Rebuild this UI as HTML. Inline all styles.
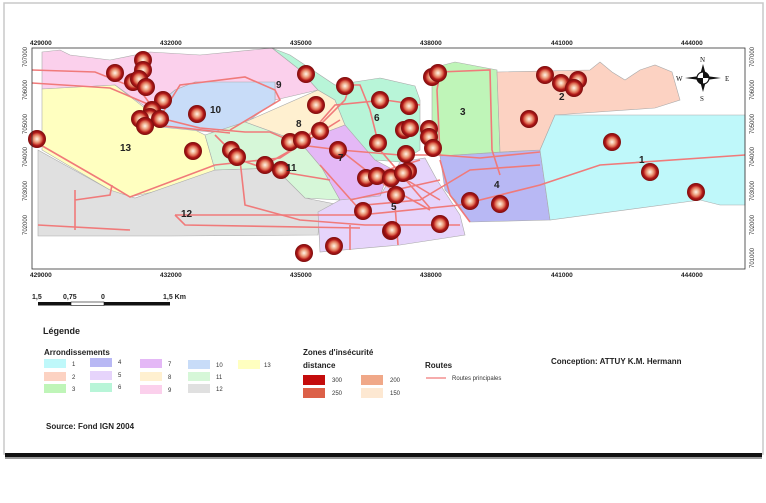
<!DOCTYPE html>
<html><head><meta charset="utf-8"><style>
html,body{margin:0;padding:0;background:#fff;}
svg{display:block;font-family:"Liberation Sans",sans-serif;}
</style></head><body>
<svg width="766" height="503" viewBox="0 0 766 503" xmlns="http://www.w3.org/2000/svg">
<defs>
<radialGradient id="c" cx="50%" cy="50%" r="50%">
<stop offset="0" stop-color="#fff4ea"/><stop offset="0.3" stop-color="#f0b090"/><stop offset="0.55" stop-color="#d9604a"/><stop offset="0.72" stop-color="#b01818"/><stop offset="1" stop-color="#7a0c0c"/>
</radialGradient>
</defs>
<rect x="0" y="0" width="766" height="503" fill="#fff"/>
<rect x="4" y="3" width="759" height="451" fill="#fff" stroke="#c8c8c8" stroke-width="1.5"/>
<rect x="5" y="453" width="757" height="4" fill="#111"/>
<rect x="5" y="457" width="757" height="2" fill="#999"/>

<g stroke="#aaa" stroke-width="0.6">
<polygon fill="#fbd0ec" points="42,52 60,50 70,55 110,60 150,52 200,55 272,48 300,70 318,90 275,100 275,83 195,82 175,90 150,110 115,85 42,89"/>
<polygon fill="#ffffc0" points="42,89 115,85 150,112 155,125 195,130 205,135 215,170 180,186 130,197 115,193 42,150"/>
<polygon fill="#e0e0e0" points="38,150 110,190 135,198 215,170 275,168 305,198 340,205 320,212 318,235 170,236 38,236"/>
<polygon fill="#c8dcf8" points="175,90 195,82 275,82 275,102 230,134 160,127 150,112"/>
<polygon fill="#fff0d0" points="245,122 318,90 335,100 345,125 300,142"/>
<polygon fill="#d6f7d8" points="205,135 245,122 300,142 322,168 340,200 305,198 275,168 215,170"/>
<polygon fill="#b8f5d8" points="272,48 290,55 335,85 380,78 415,86 420,100 420,150 400,162 375,160 350,140 345,125 335,100 318,90 300,70"/>
<polygon fill="#e4b8f6" points="300,142 345,125 375,160 390,168 380,196 340,200 322,168"/>
<polygon fill="#e6d4fb" points="340,200 380,196 400,162 425,158 437,180 460,215 465,235 400,245 320,252 318,212"/>
<polygon fill="#bff5b8" points="432,68 455,62 497,70 500,152 440,156 432,130"/>
<polygon fill="#b8b8f4" points="440,156 540,150 550,220 470,222 455,200 445,190"/>
<polygon fill="#fcd2c2" points="497,72 590,70 600,62 612,72 625,80 640,70 655,65 672,72 680,100 655,108 555,115 540,150 500,152"/>
<polygon fill="#bff8fa" points="555,115 745,115 745,205 720,205 700,200 550,220 540,150"/>
</g>

<g fill="none" stroke="#f07a7a" stroke-width="1.6">
<path d="M32,70 L95,72 L140,90 L160,118 L200,128 L245,132 L270,132 L300,145 L340,150 L400,155 L440,155 L480,158 L540,152"/>
<path d="M32,83 L110,88 L150,105 L155,125 L230,133"/>
<path d="M155,125 L180,85 L245,77 L275,90 L280,100 L230,130"/>
<path d="M32,140 L110,185 L130,197 L215,165 L280,158 L300,145 L340,120"/>
<path d="M215,135 L240,160 L245,205 L300,220 L365,225 L460,225"/>
<path d="M75,190 L75,230 M75,200 L110,195 L112,185"/>
<path d="M38,225 L130,230"/>
<path d="M175,215 L360,215 L460,205 L540,185 L600,165 L745,155"/>
<path d="M175,215 L185,225 L360,228"/>
<path d="M265,165 L300,145 L345,100 L350,85 L360,85 L370,110 L380,150 L430,208"/>
<path d="M300,145 L335,105 L385,100 L420,105"/>
<path d="M320,165 L360,210 M340,150 L385,185 L430,210 M370,175 L420,160 M350,200 L440,180 M390,170 L440,200"/>
<path d="M440,155 L437,90 L440,72 L490,70 L492,150 L500,175"/>
<path d="M440,160 L450,195 L470,222"/>
<path d="M365,205 L420,200 L470,170 L540,165"/>
<path d="M240,160 L270,170 L330,180"/>
<path d="M350,225 L350,250 M395,205 L398,245"/>
</g>

<g>
<circle cx="115" cy="73" r="9" fill="url(#c)"/><circle cx="143" cy="60" r="9" fill="url(#c)"/><circle cx="143" cy="70" r="9" fill="url(#c)"/>
<circle cx="133" cy="82" r="9" fill="url(#c)"/><circle cx="139" cy="79" r="9" fill="url(#c)"/><circle cx="146" cy="87" r="9" fill="url(#c)"/>
<circle cx="163" cy="100" r="9" fill="url(#c)"/><circle cx="152" cy="110" r="9" fill="url(#c)"/><circle cx="150" cy="117" r="9" fill="url(#c)"/>
<circle cx="140" cy="119" r="9" fill="url(#c)"/><circle cx="160" cy="119" r="9" fill="url(#c)"/><circle cx="145" cy="126" r="9" fill="url(#c)"/>
<circle cx="197" cy="114" r="9" fill="url(#c)"/><circle cx="37" cy="139" r="9" fill="url(#c)"/><circle cx="193" cy="151" r="9" fill="url(#c)"/>
<circle cx="231" cy="150" r="9" fill="url(#c)"/><circle cx="237" cy="157" r="9" fill="url(#c)"/><circle cx="265" cy="165" r="9" fill="url(#c)"/>
<circle cx="281" cy="170" r="9" fill="url(#c)"/><circle cx="290" cy="142" r="9" fill="url(#c)"/><circle cx="302" cy="140" r="9" fill="url(#c)"/>
<circle cx="320" cy="131" r="9" fill="url(#c)"/><circle cx="316" cy="105" r="9" fill="url(#c)"/><circle cx="306" cy="74" r="9" fill="url(#c)"/>
<circle cx="345" cy="86" r="9" fill="url(#c)"/><circle cx="338" cy="150" r="9" fill="url(#c)"/><circle cx="366" cy="178" r="9" fill="url(#c)"/>
<circle cx="377" cy="176" r="9" fill="url(#c)"/><circle cx="391" cy="178" r="9" fill="url(#c)"/><circle cx="363" cy="211" r="9" fill="url(#c)"/>
<circle cx="304" cy="253" r="9" fill="url(#c)"/><circle cx="334" cy="246" r="9" fill="url(#c)"/><circle cx="391" cy="231" r="9" fill="url(#c)"/>
<circle cx="380" cy="100" r="9" fill="url(#c)"/><circle cx="409" cy="106" r="9" fill="url(#c)"/><circle cx="404" cy="130" r="9" fill="url(#c)"/>
<circle cx="410" cy="128" r="9" fill="url(#c)"/><circle cx="378" cy="143" r="9" fill="url(#c)"/><circle cx="406" cy="154" r="9" fill="url(#c)"/>
<circle cx="408" cy="171" r="9" fill="url(#c)"/><circle cx="396" cy="195" r="9" fill="url(#c)"/><circle cx="392" cy="230" r="9" fill="url(#c)"/>
<circle cx="432" cy="77" r="9" fill="url(#c)"/><circle cx="438" cy="73" r="9" fill="url(#c)"/><circle cx="545" cy="75" r="9" fill="url(#c)"/>
<circle cx="561" cy="83" r="9" fill="url(#c)"/><circle cx="578" cy="80" r="9" fill="url(#c)"/><circle cx="574" cy="88" r="9" fill="url(#c)"/>
<circle cx="529" cy="119" r="9" fill="url(#c)"/><circle cx="612" cy="142" r="9" fill="url(#c)"/><circle cx="650" cy="172" r="9" fill="url(#c)"/>
<circle cx="696" cy="192" r="9" fill="url(#c)"/><circle cx="470" cy="201" r="9" fill="url(#c)"/><circle cx="500" cy="204" r="9" fill="url(#c)"/>
<circle cx="440" cy="224" r="9" fill="url(#c)"/><circle cx="429" cy="129" r="9" fill="url(#c)"/><circle cx="429" cy="137" r="9" fill="url(#c)"/>
<circle cx="433" cy="148" r="9" fill="url(#c)"/><circle cx="403" cy="173" r="9" fill="url(#c)"/>
</g>

<g font-size="10" font-weight="bold" fill="#222">
<text x="276" y="88">9</text><text x="210" y="113">10</text><text x="120" y="151">13</text>
<text x="296" y="127">8</text><text x="374" y="121">6</text><text x="338" y="161">7</text>
<text x="286" y="171">11</text><text x="181" y="217">12</text><text x="391" y="210">5</text>
<text x="460" y="115">3</text><text x="559" y="100">2</text><text x="494" y="188">4</text><text x="639" y="163">1</text>
</g>

<rect x="32" y="48" width="713" height="221" fill="none" stroke="#333" stroke-width="0.8"/>
<g font-size="6.5" font-weight="bold" fill="#222">
<text x="30" y="45">429000</text><text x="160" y="45">432000</text><text x="290" y="45">435000</text>
<text x="420" y="45">438000</text><text x="551" y="45">441000</text><text x="681" y="45">444000</text>
<text x="30" y="277">429000</text><text x="160" y="277">432000</text><text x="290" y="277">435000</text>
<text x="420" y="277">438000</text><text x="551" y="277">441000</text><text x="681" y="277">444000</text>
</g>
<g font-size="6" fill="#333">
<text transform="translate(27,67) rotate(-90)">707000</text>
<text transform="translate(27,100) rotate(-90)">706000</text>
<text transform="translate(27,134) rotate(-90)">705000</text>
<text transform="translate(27,167) rotate(-90)">704000</text>
<text transform="translate(27,201) rotate(-90)">703000</text>
<text transform="translate(27,235) rotate(-90)">702000</text>
<text transform="translate(754,67) rotate(-90)">707000</text>
<text transform="translate(754,100) rotate(-90)">706000</text>
<text transform="translate(754,134) rotate(-90)">705000</text>
<text transform="translate(754,167) rotate(-90)">704000</text>
<text transform="translate(754,201) rotate(-90)">703000</text>
<text transform="translate(754,235) rotate(-90)">702000</text>
<text transform="translate(754,268) rotate(-90)">701000</text>
</g>

<g transform="translate(703,78)">
<polygon points="0,-14 3,-3 0,0 -3,-3" fill="#111"/>
<polygon points="0,14 3,3 0,0 -3,3" fill="#111"/>
<polygon points="-18,0 -3,-2 0,0 -3,2" fill="#111"/>
<polygon points="18,0 3,-2 0,0 3,2" fill="#111"/>
<circle r="6" fill="#fff" stroke="#111" stroke-width="1.2"/>
<path d="M0,-6 A6,6 0 0 1 6,0 L0,0Z M0,6 A6,6 0 0 1 -6,0 L0,0Z" fill="#111"/>
<g font-family="Liberation Serif,serif" font-size="7" fill="#111">
<text x="-3" y="-16">N</text><text x="-3" y="23">S</text><text x="-27" y="3">W</text><text x="22" y="3">E</text>
</g>
</g>

<g font-size="7" font-weight="bold" fill="#222">
<text x="32" y="299">1,5</text><text x="63" y="299">0,75</text><text x="101" y="299">0</text><text x="163" y="299">1,5 Km</text>
</g>
<rect x="38" y="302" width="33" height="3.5" fill="#111"/>
<rect x="71" y="302" width="33" height="3.5" fill="#fff" stroke="#111" stroke-width="0.6"/>
<rect x="104" y="302" width="66" height="3.5" fill="#111"/>

<text x="43" y="334" font-size="9" font-weight="bold" fill="#222">Légende</text>
<text x="44" y="355" font-size="8" font-weight="bold" fill="#222">Arrondissements</text>
<g font-size="6" fill="#333">
<rect x="44" y="359" width="22" height="9" fill="#bff8fa"/><text x="72" y="366">1</text>
<rect x="44" y="372" width="22" height="9" fill="#fcd2c2"/><text x="72" y="379">2</text>
<rect x="44" y="384" width="22" height="9" fill="#bff5b8"/><text x="72" y="391">3</text>
<rect x="90" y="358" width="22" height="9" fill="#b8b8f4"/><text x="118" y="364">4</text>
<rect x="90" y="371" width="22" height="9" fill="#e6d4fb"/><text x="118" y="377">5</text>
<rect x="90" y="383" width="22" height="9" fill="#b8f5d8"/><text x="118" y="389">6</text>
<rect x="140" y="359" width="22" height="9" fill="#e4b8f6"/><text x="168" y="366">7</text>
<rect x="140" y="372" width="22" height="9" fill="#fff0d0"/><text x="168" y="379">8</text>
<rect x="140" y="385" width="22" height="9" fill="#fbd0ec"/><text x="168" y="392">9</text>
<rect x="188" y="360" width="22" height="9" fill="#c8dcf8"/><text x="216" y="367">10</text>
<rect x="188" y="372" width="22" height="9" fill="#d6f7d8"/><text x="216" y="379">11</text>
<rect x="188" y="384" width="22" height="9" fill="#e0e0e0"/><text x="216" y="391">12</text>
<rect x="238" y="360" width="22" height="9" fill="#ffffc0"/><text x="264" y="367">13</text>
</g>
<text x="303" y="355" font-size="8" font-weight="bold" fill="#222">Zones d'insécurité</text>
<text x="303" y="368" font-size="8" font-weight="bold" fill="#222">distance</text>
<g font-size="6" fill="#333">
<rect x="303" y="375" width="22" height="10" fill="#c40c0c"/><text x="332" y="382">300</text>
<rect x="303" y="388" width="22" height="10" fill="#dc6048"/><text x="332" y="395">250</text>
<rect x="361" y="375" width="22" height="10" fill="#f0a888"/><text x="390" y="382">200</text>
<rect x="361" y="388" width="22" height="10" fill="#fde8d2"/><text x="390" y="395">150</text>
</g>
<text x="425" y="368" font-size="8" font-weight="bold" fill="#222">Routes</text>
<line x1="426" y1="378" x2="446" y2="378" stroke="#f07a7a" stroke-width="1.2"/>
<text x="452" y="380" font-size="6" fill="#333">Routes principales</text>
<text x="551" y="364" font-size="8" font-weight="bold" fill="#222">Conception: ATTUY K.M. Hermann</text>
<text x="46" y="429" font-size="8" font-weight="bold" fill="#222">Source: Fond IGN 2004</text>
</svg>
</body></html>
